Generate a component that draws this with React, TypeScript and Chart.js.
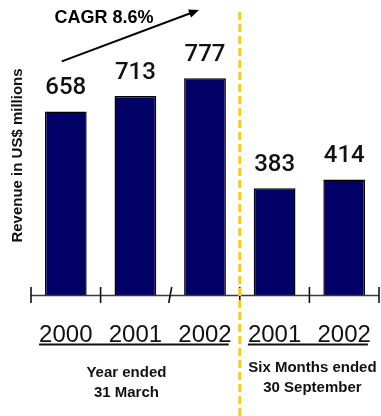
import React, { useEffect, useRef } from "react";
import { Chart, registerables } from "chart.js";

Chart.register(...registerables);

const categories = ["2000", "2001", "2002", "2001", "2002"];
const revenue = [658, 713, 777, 383, 414];
const groupOf = [0, 0, 0, 1, 1];
const groupTitles = [
  ["Year ended", "31 March"],
  ["Six Months ended", "30 September"],
];
const yTitle = "Revenue in US$ millions";
const cagrText = "CAGR 8.6%";

const FONT = "'Liberation Sans', Arial, sans-serif";

const overlay = {
  id: "overlay",
  afterDraw(chart: any) {
    const ctx = chart.ctx as CanvasRenderingContext2D;
    const xs = chart.scales.x;
    const area = chart.chartArea;
    const base = area.bottom;
    const n = categories.length;
    const px = (i: number) => xs.getPixelForValue(i);
    const bound = (i: number) =>
      i === 0 ? area.left : i === n ? area.right : (px(i - 1) + px(i)) / 2;
    ctx.save();

    // axis line
    ctx.strokeStyle = "#3a3a3a";
    ctx.lineWidth = 1.6;
    ctx.beginPath();
    ctx.moveTo(area.left, base + 0.5);
    ctx.lineTo(area.right, base + 0.5);
    ctx.stroke();

    // tick marks
    ctx.strokeStyle = "#111";
    ctx.lineWidth = 1.6;
    for (let i = 0; i <= n; i++) {
      const x = bound(i);
      ctx.beginPath();
      if (i === 2) {
        ctx.moveTo(x + 1.5, base - 8);
        ctx.lineTo(x - 1.5, base + 8);
      } else {
        ctx.moveTo(x, base - 8);
        ctx.lineTo(x, base + 8);
      }
      ctx.stroke();
    }

    // value labels
    const meta = chart.getDatasetMeta(0);
    ctx.fillStyle = "#111";
    ctx.font = `500 24px Roboto, ${FONT}`;
    ctx.textAlign = "center";
    ctx.textBaseline = "alphabetic";
    meta.data.forEach((bar: any, i: number) => {
      ctx.fillText(String(revenue[i]), bar.x, bar.y - 17);
    });

    // category labels + underlines
    const labelY = base + 47;
    ctx.font = `24px ${FONT}`;
    const groups: { [k: number]: [number, number] } = {};
    categories.forEach((c, i) => {
      ctx.fillText(c, px(i), labelY);
      const w = ctx.measureText(c).width;
      const g = groupOf[i];
      const l = px(i) - w / 2;
      const r = px(i) + w / 2;
      if (!groups[g]) groups[g] = [l, r];
      else {
        groups[g][0] = Math.min(groups[g][0], l);
        groups[g][1] = Math.max(groups[g][1], r);
      }
    });
    ctx.lineWidth = 2;
    ctx.strokeStyle = "#111";
    Object.keys(groups).forEach((k) => {
      const [l, r] = groups[+k];
      ctx.beginPath();
      ctx.moveTo(l, labelY + 2.5);
      ctx.lineTo(r - 3, labelY + 2.5);
      ctx.stroke();
    });

    // group titles
    ctx.font = `bold 15px ${FONT}`;
    ctx.fillStyle = "#111";
    const g0c = (bound(0) + bound(3)) / 2 - 9;
    const g1c = (bound(3) + bound(5)) / 2 + 3;
    ctx.fillText(groupTitles[0][0], g0c, base + 82);
    ctx.fillText(groupTitles[0][1], g0c, base + 102);
    ctx.fillText(groupTitles[1][0], g1c, base + 77);
    ctx.fillText(groupTitles[1][1], g1c, base + 97);

    // y title
    ctx.save();
    ctx.translate(22, (area.top + base) / 2);
    ctx.rotate(-Math.PI / 2);
    ctx.font = `bold 15px ${FONT}`;
    ctx.textAlign = "center";
    ctx.fillText(yTitle, 0, 0);
    ctx.restore();

    // CAGR arrow
    const b0 = meta.data[0];
    const sx = b0.x - 4;
    const sy = b0.y - 50;
    const ex = px(2) - 6;
    const ey = area.top - 6;
    ctx.strokeStyle = "#000";
    ctx.fillStyle = "#000";
    ctx.lineWidth = 2;
    ctx.beginPath();
    ctx.moveTo(sx, sy);
    ctx.lineTo(ex - 6, ey + 2.3);
    ctx.stroke();
    const ang = Math.atan2(ey - sy, ex - sx);
    ctx.beginPath();
    ctx.moveTo(ex, ey);
    ctx.lineTo(ex - 11 * Math.cos(ang - 0.4), ey - 11 * Math.sin(ang - 0.4));
    ctx.lineTo(ex - 11 * Math.cos(ang + 0.4), ey - 11 * Math.sin(ang + 0.4));
    ctx.closePath();
    ctx.fill();

    ctx.font = `bold 18px ${FONT}`;
    ctx.textAlign = "center";
    ctx.fillText(cagrText, 104, 23);

    // yellow dashed divider
    ctx.strokeStyle = "#FFCC00";
    ctx.lineWidth = 3;
    ctx.setLineDash([8, 4]);
    ctx.beginPath();
    const dx = bound(3);
    ctx.moveTo(dx, 12);
    ctx.lineTo(dx, chart.height);
    ctx.stroke();
    ctx.setLineDash([]);

    ctx.restore();
  },
};

export default function App() {
  const ref = useRef<HTMLCanvasElement | null>(null);
  useEffect(() => {
    document.body.style.margin = "0";
    const chart = new Chart(ref.current as HTMLCanvasElement, {
      type: "bar",
      data: {
        labels: categories,
        datasets: [
          {
            data: revenue,
            backgroundColor: "#000066",
            borderColor: "#000000",
            borderWidth: 1.5,
            barPercentage: 0.6,
            categoryPercentage: 1,
          },
        ],
      },
      options: {
        animation: false,
        responsive: false,
        layout: { padding: { left: 31, right: 2, top: 16, bottom: 121 } },
        plugins: {
          legend: { display: false },
          tooltip: { enabled: false },
        },
        scales: {
          x: { display: false },
          y: { display: false, min: 0, max: 1000 },
        },
      },
      plugins: [overlay],
    });
    return () => chart.destroy();
  }, []);
  return (
    <div style={{ position: "absolute", left: 0, top: 0, width: 381, height: 416, background: "#fff" }}>
      <canvas ref={ref} width={381} height={416} style={{ width: 381, height: 416 }} />
    </div>
  );
}
